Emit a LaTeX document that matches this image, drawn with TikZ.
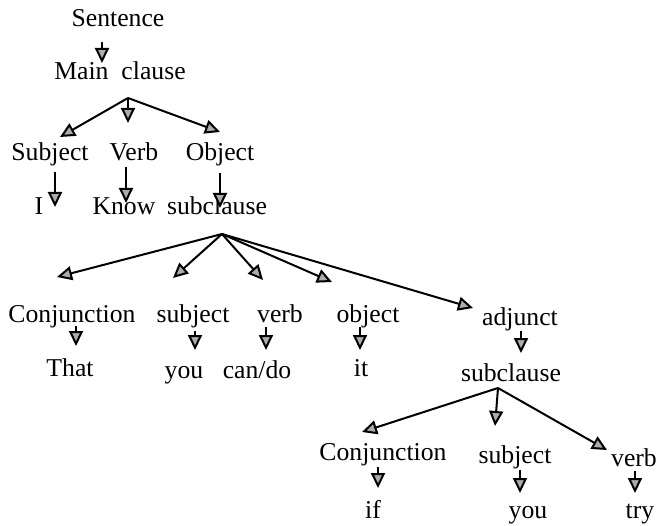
\documentclass[tikz,border=0pt]{standalone}
\usepackage{fontspec}
\setmainfont{Liberation Serif}
\usetikzlibrary{arrows.meta}
\begin{document}
\begin{tikzpicture}[x=1pt,y=-1pt,
  lbl/.style={anchor=base, inner sep=0pt, font=\fontsize{25.7}{30}\selectfont},
  arr/.style={line width=2pt, -{Triangle[length=15pt,width=14pt,fill=gray!65]}}]
\path[use as bounding box, fill=white] (0,0) rectangle (658,526);
% nodes
\node[lbl] (sent) at (118,27) {Sentence};
\node[lbl] (main) at (120,80) {Main\ \ clause};
\node[lbl] (subj) at (50,161) {Subject};
\node[lbl] (verb) at (134,161) {Verb};
\node[lbl] (obj) at (220,161) {Object};
\node[lbl] (I) at (39,215) {I};
\node[lbl] (know) at (124,215) {Know};
\node[lbl] (sub1) at (217,215) {subclause};
\node[lbl] (conj) at (72,323) {Conjunction};
\node[lbl] (subj2) at (193,323) {subject};
\node[lbl] (verb2) at (280,323) {verb};
\node[lbl] (obj2) at (368,323) {object};
\node[lbl] (adj) at (520,326) {adjunct};
\node[lbl] (that) at (70,376) {That};
\node[lbl] (you) at (184,378) {you};
\node[lbl] (cando) at (257,378) {can/do};
\node[lbl] (it) at (361,376) {it};
\node[lbl] (sub2) at (511,381) {subclause};
\node[lbl] (conj3) at (383,460) {Conjunction};
\node[lbl] (subj3) at (515,463) {subject};
\node[lbl] (verb3) at (634,466) {verb};
\node[lbl] (if) at (373,518) {if};
\node[lbl] (you3) at (528,518) {you};
\node[lbl] (try) at (640,518) {try};
% hubs
\coordinate (h1) at ([shift={(8,18)}]main.base);
\coordinate (h2) at ([shift={(5,19)}]sub1.base);
\coordinate (h3) at ([shift={(-13,7)}]sub2.base);
% connectors
\draw[arr] ([shift={(-16,15)}]sent.base) -- ([shift={(-18,-17)}]main.base);
\draw[arr] (h1) -- ([shift={(10,-24)}]subj.base);
\draw[arr] (h1) -- ([shift={(-6,-38)}]verb.base);
\draw[arr] (h1) -- ([shift={(0,-29)}]obj.base);
\draw[arr] ([shift={(5,11)}]subj.base) -- ([shift={(16,-8)}]I.base);
\draw[arr] ([shift={(-8,6)}]verb.base) -- ([shift={(2,-12)}]know.base);
\draw[arr] ([shift={(0,12)}]obj.base) -- ([shift={(3,-7)}]sub1.base);
\draw[arr] (h2) -- ([shift={(-15,-46)}]conj.base);
\draw[arr] (h2) -- ([shift={(-20,-45)}]subj2.base);
\draw[arr] (h2) -- ([shift={(-17,-43)}]verb2.base);
\draw[arr] (h2) -- ([shift={(-36,-41)}]obj2.base);
\draw[arr] (h2) -- ([shift={(-47,-18)}]adj.base);
\draw[arr] ([shift={(4,3)}]conj.base) -- ([shift={(6,-30)}]that.base);
\draw[arr] ([shift={(2,8)}]subj2.base) -- ([shift={(11,-28)}]you.base);
\draw[arr] ([shift={(-14,4)}]verb2.base) -- ([shift={(9,-28)}]cando.base);
\draw[arr] ([shift={(-8,4)}]obj2.base) -- ([shift={(-1,-26)}]it.base);
\draw[arr] ([shift={(1,5)}]adj.base) -- ([shift={(10,-28)}]sub2.base);
\draw[arr] (h3) -- ([shift={(-21,-28)}]conj3.base);
\draw[arr] (h3) -- ([shift={(-20,-37)}]subj3.base);
\draw[arr] (h3) -- ([shift={(-27,-16)}]verb3.base);
\draw[arr] ([shift={(-5,7)}]conj3.base) -- ([shift={(5,-30)}]if.base);
\draw[arr] ([shift={(5,7)}]subj3.base) -- ([shift={(-8,-25)}]you3.base);
\draw[arr] ([shift={(1,5)}]verb3.base) -- ([shift={(-5,-25)}]try.base);
\end{tikzpicture}
\end{document}
